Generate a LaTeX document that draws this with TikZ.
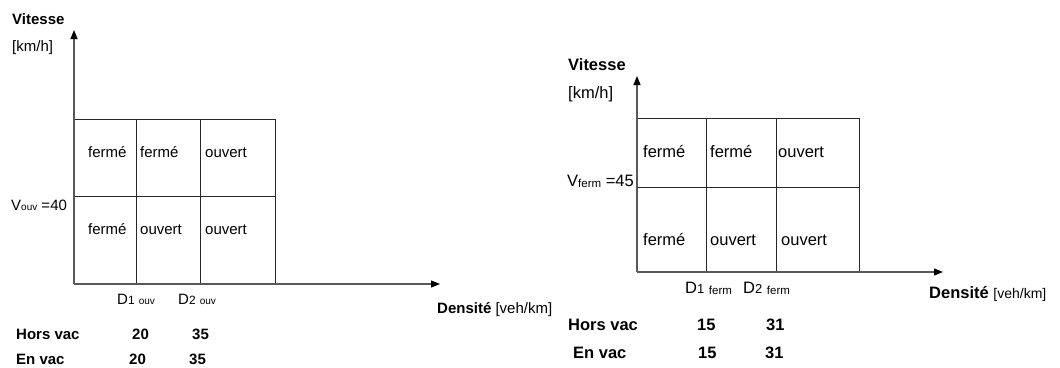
\documentclass[tikz,border=0pt]{standalone}
\usepackage{fontspec}
\setmainfont{Liberation Sans}
\usetikzlibrary{arrows.meta}
\newcommand{\subsm}[1]{{\fontsize{10}{10}\selectfont\raisebox{-0.5pt}{#1}}}
\newcommand{\subsmr}[1]{{\fontsize{11.5}{11.5}\selectfont\raisebox{-1pt}{#1}}}
\begin{document}
\begin{tikzpicture}[x=1pt,y=-1pt,
  axis/.style={draw=black!65, line width=1.2pt, -{Triangle[length=9pt,width=7pt,fill=black,color=black]}},
  gridl/.style={draw=black!85, line width=0.8pt},
  lt/.style={anchor=base west, inner sep=0pt, font=\fontsize{15}{18}\selectfont},
  rt/.style={anchor=base west, inner sep=0pt, font=\fontsize{16.5}{20}\selectfont}]
\useasboundingbox (0,0) rectangle (1060,367);
% ---------- left chart ----------
\coordinate (LO) at (74,284);
\coordinate (LY) at (74,30);
\coordinate (LX) at (440,284);
\draw[gridl] (74,119) rectangle (275,284);
\draw[gridl] (136,119) -- (136,284);
\draw[gridl] (200,119) -- (200,284);
\draw[gridl] (74,196) -- (275,196);
\draw[axis] (LO) -- (LY);
\draw[axis] (LO) -- (LX);
\node[lt] (lvit) at (12,24) {\textbf{Vitesse}};
\node[lt] (lkm) at (12,51) {[km/h]};
\node[lt] (lvouv) at (11,210) {V\subsm{ouv} =40};
\node[lt] (l11) at (88,157) {fermé};
\node[lt] (l12) at (140,157) {fermé};
\node[lt] (l13) at (205,157) {ouvert};
\node[lt] (l21) at (88,234) {fermé};
\node[lt] (l22) at (140,234) {ouvert};
\node[lt] (l23) at (205,234) {ouvert};
\node[lt] (ld1) at (117,304) {D{\fontsize{12}{12}\selectfont 1} \subsm{ouv}};
\node[lt] (ld2) at (178,304) {D{\fontsize{12}{12}\selectfont 2} \subsm{ouv}};
\node[lt] (lden) at (437,313) {\textbf{Densité} [veh/km]};
\node[lt] (lhv) at (16,339) {\textbf{Hors vac}};
\node[lt] (lhv1) at (132,339) {\textbf{20}};
\node[lt] (lhv2) at (192,339) {\textbf{35}};
\node[lt] (lev) at (16,364) {\textbf{En vac}};
\node[lt] (lev1) at (129,364) {\textbf{20}};
\node[lt] (lev2) at (189,364) {\textbf{35}};
% ---------- right chart ----------
\coordinate (RO) at (637,272);
\coordinate (RY) at (637,76);
\coordinate (RX) at (943,272);
\draw[gridl] (637,118) rectangle (859,272);
\draw[gridl] (706,118) -- (706,272);
\draw[gridl] (776,118) -- (776,272);
\draw[gridl] (637,187) -- (859,187);
\draw[axis] (RO) -- (RY);
\draw[axis] (RO) -- (RX);
\node[rt] (rvit) at (568,70) {\textbf{Vitesse}};
\node[rt] (rkm) at (568,98) {[km/h]};
\node[rt] (rvf) at (567,186) {V\subsmr{ferm} =45};
\node[rt] (r11) at (643,157) {fermé};
\node[rt] (r12) at (710,157) {fermé};
\node[rt] (r13) at (778,157) {ouvert};
\node[rt] (r21) at (643,245) {fermé};
\node[rt] (r22) at (710,245) {ouvert};
\node[rt] (r23) at (781,245) {ouvert};
\node[rt] (rd1) at (685,293) {D{\fontsize{13}{13}\selectfont 1} \subsmr{ferm}};
\node[rt] (rd2) at (743,293) {D{\fontsize{13}{13}\selectfont 2} \subsmr{ferm}};
\node[rt] (rden) at (929,298) {\textbf{Densité} {\fontsize{14}{16}\selectfont[veh/km]}};
\node[rt] (rhv) at (568,330) {\textbf{Hors vac}};
\node[rt] (rhv1) at (697,330) {\textbf{15}};
\node[rt] (rhv2) at (766,330) {\textbf{31}};
\node[rt] (rev) at (573,358) {\textbf{En vac}};
\node[rt] (rev1) at (698,358) {\textbf{15}};
\node[rt] (rev2) at (765,358) {\textbf{31}};
\end{tikzpicture}
\end{document}
